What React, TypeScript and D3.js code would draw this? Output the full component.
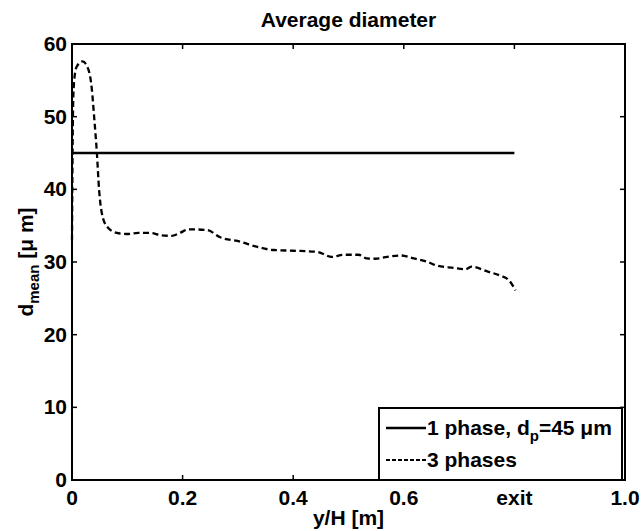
import React from "react";
import * as d3 from "d3";

// 3-phase mean diameter along the riser
const threeX = [0, 0.001, 0.003, 0.008, 0.019, 0.03, 0.036, 0.04, 0.045, 0.049, 0.054, 0.063, 0.081, 0.099, 0.12, 0.141, 0.16, 0.18, 0.195, 0.211, 0.244, 0.268, 0.304, 0.334, 0.364, 0.401, 0.443, 0.47, 0.491, 0.518, 0.533, 0.548, 0.57, 0.594, 0.618, 0.642, 0.66, 0.69, 0.711, 0.723, 0.751, 0.775, 0.79, 0.802];
const threeY = [33, 45, 54, 56.8, 57.6, 56.4, 53.7, 50, 45, 39.9, 36.7, 34.9, 34.0, 33.85, 34.0, 34.0, 33.7, 33.6, 34.0, 34.5, 34.4, 33.4, 32.8, 32.1, 31.65, 31.55, 31.4, 30.7, 31.0, 31.0, 30.5, 30.45, 30.7, 30.9, 30.5, 30.05, 29.5, 29.2, 29.0, 29.35, 28.7, 28.1, 27.5, 26.1];

// single phase: constant diameter
const oneX = [0, 0.8];
const oneY = [45, 45];

const xTicks = [0, 0.2, 0.4, 0.6, 0.8, 1.0];
const xTickLabels = ["0", "0.2", "0.4", "0.6", "exit", "1.0"];
const yTicks = [0, 10, 20, 30, 40, 50, 60];

const W = 642;
const H = 531;
const margin = { top: 44, right: 17, bottom: 51, left: 72 };
const FONT = "'Liberation Sans', Arial, Helvetica, sans-serif";
const FS = 21;

export default function App() {
  const innerW = W - margin.left - margin.right;
  const innerH = H - margin.top - margin.bottom;

  const x = d3.scaleLinear().domain([0, 1]).range([0, innerW]);
  const y = d3.scaleLinear().domain([0, 60]).range([innerH, 0]);

  const line = d3
    .line<[number, number]>()
    .x((d) => x(d[0]))
    .y((d) => y(d[1]))
    .curve(d3.curveMonotoneX);

  const threePts = threeX.map((v, i) => [v, threeY[i]] as [number, number]);
  const onePts = oneX.map((v, i) => [v, oneY[i]] as [number, number]);

  // legend box in plot coordinates
  const lg = { x: 307, y: 364, w: 243, h: innerH - 364 };

  return (
    <svg
      width={W}
      height={H}
      style={{ position: "absolute", left: 0, top: 0, background: "#fff" }}
      fontFamily={FONT}
      fontWeight="bold"
    >
      <text x={margin.left + innerW / 2} y={27} textAnchor="middle" fontSize={FS}>
        Average diameter
      </text>
      <g transform={`translate(${margin.left},${margin.top})`}>
        {/* data */}
        <path d={line(onePts) || ""} fill="none" stroke="#000" strokeWidth={2.3} />
        <path
          d={line(threePts) || ""}
          fill="none"
          stroke="#000"
          strokeWidth={2.3}
          strokeDasharray="6,3.5"
        />

        {/* ticks on all four sides, pointing inwards */}
        {xTicks.map((t, i) => (
          <g key={"x" + i}>
            <line x1={x(t)} x2={x(t)} y1={innerH} y2={innerH - 5} stroke="#000" strokeWidth={1.5} />
            <line x1={x(t)} x2={x(t)} y1={0} y2={5} stroke="#000" strokeWidth={1.5} />
            <text x={x(t)} y={innerH + 25} textAnchor="middle" fontSize={FS}>
              {xTickLabels[i]}
            </text>
          </g>
        ))}
        {yTicks.map((t) => (
          <g key={"y" + t}>
            <line x1={0} x2={5} y1={y(t)} y2={y(t)} stroke="#000" strokeWidth={1.5} />
            <line x1={innerW} x2={innerW - 5} y1={y(t)} y2={y(t)} stroke="#000" strokeWidth={1.5} />
            <text x={-5} y={y(t) + 7} textAnchor="end" fontSize={FS}>
              {t}
            </text>
          </g>
        ))}

        {/* legend */}
        <rect x={lg.x} y={lg.y} width={lg.w} height={lg.h} fill="#fff" stroke="#000" strokeWidth={2} />
        <line x1={lg.x + 7} x2={lg.x + 47} y1={lg.y + 20} y2={lg.y + 20} stroke="#000" strokeWidth={2.3} />
        <text x={lg.x + 48} y={lg.y + 27} fontSize={FS}>
          1 phase, d
          <tspan dy={6} fontSize={15}>p</tspan>
          <tspan dy={-6}>=45 μm</tspan>
        </text>
        <line
          x1={lg.x + 7}
          x2={lg.x + 47}
          y1={lg.y + 52}
          y2={lg.y + 52}
          stroke="#000"
          strokeWidth={1.8}
          strokeDasharray="4,2"
        />
        <text x={lg.x + 48} y={lg.y + 59} fontSize={FS}>
          3 phases
        </text>

        {/* axes box */}
        <rect x={0} y={0} width={innerW} height={innerH} fill="none" stroke="#000" strokeWidth={2} />
      </g>

      <text x={margin.left + innerW / 2} y={525} textAnchor="middle" fontSize={FS}>
        y/H [m]
      </text>
      <text
        transform={`translate(33,${margin.top + innerH / 2}) rotate(-90)`}
        textAnchor="middle"
        fontSize={FS}
      >
        d<tspan dy={6} fontSize={15}>mean</tspan>
        <tspan dy={-6}> [μ m]</tspan>
      </text>
    </svg>
  );
}
